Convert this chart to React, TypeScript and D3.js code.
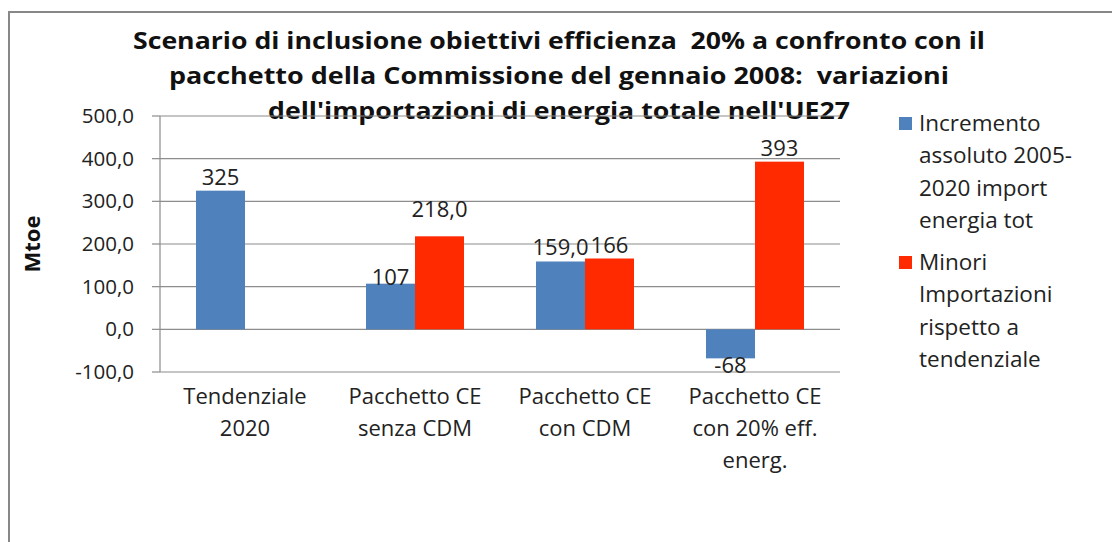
import React from 'react';
import * as d3 from 'd3';

const categories = [
  ['Tendenziale', '2020'],
  ['Pacchetto CE', 'senza CDM'],
  ['Pacchetto CE', 'con CDM'],
  ['Pacchetto CE', 'con 20% eff.', 'energ.'],
];
const seriesNames = ['Incremento assoluto 2005-2020 import energia tot', 'Minori Importazioni rispetto a tendenziale'];
const incremento: (number | null)[] = [325, 107, 159, -68];
const minori: (number | null)[] = [null, 218, 166, 393];
const incrementoLabels = ['325', '107', '159,0', '-68'];
const minoriLabels = ['', '218,0', '166', '393'];
const yTicks = [-100, 0, 100, 200, 300, 400, 500];
const titleLines = [
  'Scenario di inclusione obiettivi efficienza  20% a confronto con il',
  'pacchetto della Commissione del gennaio 2008:  variazioni',
  "dell'importazioni di energia totale nell'UE27",
];
const legendLines = [
  ['Incremento', 'assoluto 2005-', '2020 import', 'energia tot'],
  ['Minori', 'Importazioni', 'rispetto a', 'tendenziale'],
];

const colors = ['#4F81BD', '#FF2A00'];
const font = "'Open Sans', 'Noto Sans', sans-serif";
const textColor = '#222';

// title line widths in the original (Calibri is narrower than what we have)
const titleWidths = [852, 780, 582];

// the excel labels were hand-placed on a couple of bars
const labelShift: Record<string, number> = {'107': 7, '218,0': -13};

const fmt = (t: number) => d3.format('.1f')(t).replace('.', ',').replace('\u2212', '-');

export default function App() {
  const W = 1112;
  const H = 542;
  const plot = {left: 160, right: 840, top: 116, bottom: 372};

  const y = d3.scaleLinear().domain([-100, 500]).range([plot.bottom, plot.top]);
  const x0 = d3.scaleBand<number>()
    .domain(categories.map((_, i) => i))
    .range([plot.left, plot.right])
    .paddingInner(0.4235)
    .paddingOuter(0.2118);
  const x1 = d3.scaleBand<number>().domain([0, 1]).range([0, x0.bandwidth()]);

  const series = [incremento, minori];
  const labels = [incrementoLabels, minoriLabels];

  return (
    <svg width={W} height={H} style={{position: 'absolute', left: 0, top: 0}}>
      <rect x={0} y={0} width={W} height={H} fill="#fff" />
      <rect x={9} y={12} width={W + 20} height={H + 20} fill="none" stroke="#888" strokeWidth={2} />

      {titleLines.map((t, i) => (
        <text key={i} x={559} y={49 + i * 35} textAnchor="middle" fontFamily={font}
          fontWeight="bold" fontSize={24} fill="#111" textLength={titleWidths[i]}
          lengthAdjust="spacingAndGlyphs" style={{whiteSpace: 'pre'}}>{t}</text>
      ))}

      {yTicks.map(t => (
        <g key={t}>
          <line x1={plot.left} x2={plot.right} y1={y(t)} y2={y(t)} stroke="#8c8c8c" strokeWidth={1.2} />
          <line x1={152} x2={plot.left} y1={y(t)} y2={y(t)} stroke="#8c8c8c" strokeWidth={1.2} />
          <text x={134} y={y(t) + 7} textAnchor="end" fontFamily={font} fontSize={20.5} fill={textColor}>
            {fmt(t)}
          </text>
        </g>
      ))}
      <line x1={plot.left} x2={plot.left} y1={plot.top} y2={plot.bottom} stroke="#8c8c8c" strokeWidth={1.2} />

      <text transform="translate(40,244) rotate(-90)" textAnchor="middle" fontFamily={font}
        fontWeight="bold" fontSize={22} fill="#111">Mtoe</text>

      {series.map((vals, s) => vals.map((v, i) => {
        if (v === null) return null;
        const bx = (x0(i) || 0) + (x1(s) || 0);
        const bw = x1.bandwidth();
        const top = y(Math.max(0, v));
        const h = Math.abs(y(v) - y(0));
        const lbl = labels[s][i];
        const ly = v >= 0 ? top - 6 + (labelShift[lbl] || 0) : y(v) + 15;
        return (
          <g key={`${s}-${i}`}>
            <rect x={bx} y={top} width={bw} height={h} fill={colors[s]} />
            <text x={bx + bw / 2} y={ly} textAnchor="middle" fontFamily={font} fontSize={22} fill={textColor}>{lbl}</text>
          </g>
        );
      }))}

      {categories.map((lines, i) => (
        <text key={i} textAnchor="middle" fontFamily={font} fontSize={22} fill={textColor}>
          {lines.map((l, j) => (
            <tspan key={j} x={(x0(i) || 0) + x0.bandwidth() / 2} y={404 + j * 32}>{l}</tspan>
          ))}
        </text>
      ))}

      {legendLines.map((lines, s) => (
        <g key={s} aria-label={seriesNames[s]}>
          <rect x={899} y={s === 0 ? 117 : 256} width={13} height={13} fill={colors[s]} />
          {lines.map((l, j) => (
            <text key={j} x={919} y={(s === 0 ? 131 : 270) + j * 32.3} fontFamily={font} fontSize={22.5} fill={textColor}>{l}</text>
          ))}
        </g>
      ))}
    </svg>
  );
}
